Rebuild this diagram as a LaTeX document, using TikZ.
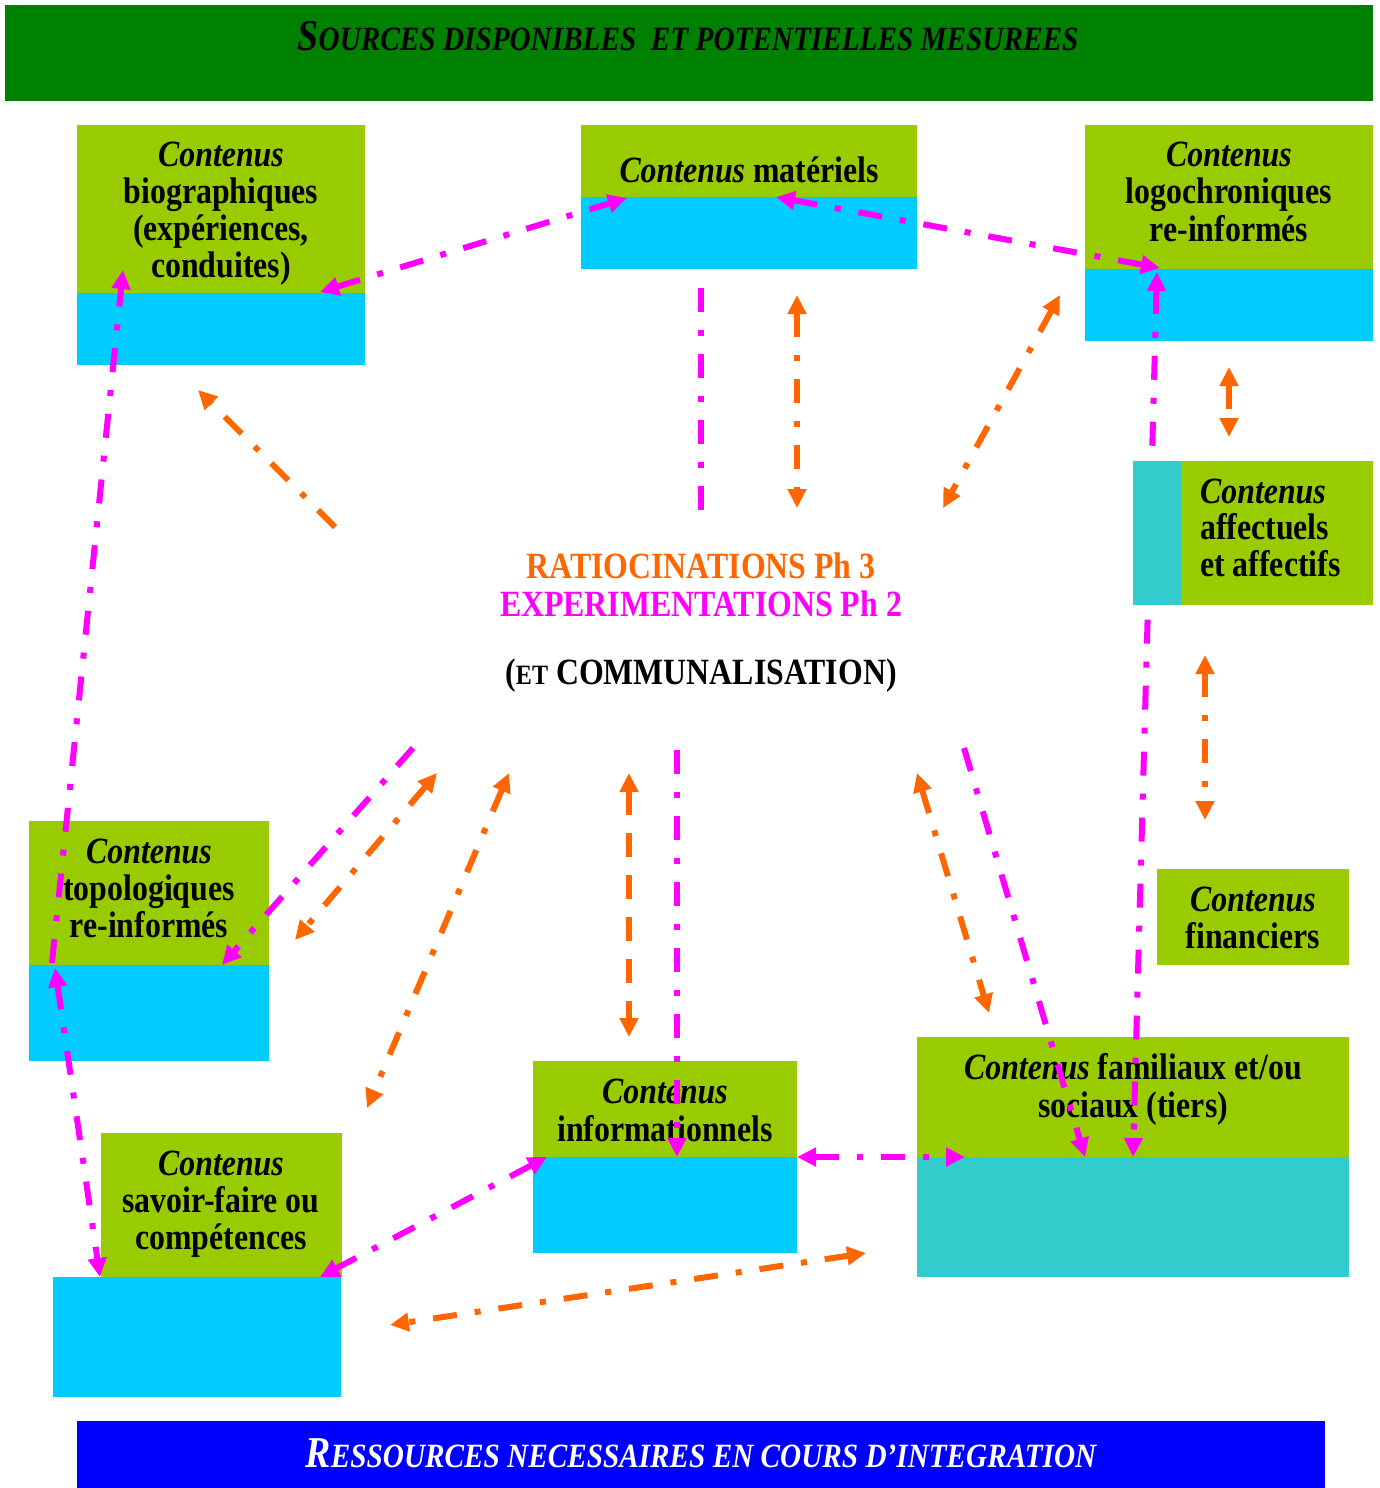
\documentclass[tikz,border=0pt]{standalone}
\usepackage{fontspec}
\setmainfont{Liberation Serif}[FakeStretch=0.86]
\usetikzlibrary{arrows.meta}
\definecolor{bandgreen}{RGB}{0,128,0}
\definecolor{lime}{RGB}{153,204,0}
\definecolor{sky}{RGB}{0,204,255}
\definecolor{sea}{RGB}{51,204,204}
\definecolor{bandblue}{RGB}{0,0,255}
\definecolor{orng}{RGB}{255,102,0}
\definecolor{mag}{RGB}{255,0,255}
\begin{document}
\begin{tikzpicture}[x=1pt,y=-1pt,
  panel/.style n args={3}{anchor=north west, inner sep=0pt, outer sep=0pt,
    minimum width=#1pt, minimum height=#2pt, fill=#3, draw=none},
  txt/.style={anchor=base, inner sep=0pt, font=\bfseries\fontsize{37}{37}\selectfont},
  txtl/.style={txt, anchor=base west},
  link/.style={line width=6pt, dash pattern=on 24pt off 18pt on 6pt off 18pt,
    >={Triangle[length=19pt,width=18pt]}},
  mlink/.style={link, draw=mag},
  olink/.style={link, draw=orng},
  olinkdash/.style={olink, dash pattern=on 24pt off 18pt}]

\useasboundingbox (0,0) rectangle (1380,1488);

% ---------- banners ----------
\node[panel={1368}{96}{bandgreen}] (topband) at (5,5) {};
\node[anchor=base, inner sep=0pt, font=\bfseries\itshape] (toptxt) at (688,51)
  {{\fontsize{44}{44}\selectfont S}{\fontsize{34}{34}\selectfont OURCES DISPONIBLES\ \ ET POTENTIELLES MESUREES}};
\node[panel={1248}{67}{bandblue}] (botband) at (77,1421) {};
\node[anchor=base, inner sep=0pt, font=\bfseries\itshape, text=white] (bottxt) at (701,1467)
  {{\fontsize{44}{44}\selectfont R}{\fontsize{34}{34}\selectfont ESSOURCES NECESSAIRES EN COURS D’INTEGRATION}};

% ---------- content boxes ----------
% biographiques
\node[panel={288}{168}{lime}] (bioG) at (77,125) {};
\node[panel={288}{72}{sky}] (bioB) at (77,293) {};
\node[txt] (bioT1) at (221,166) {\textit{Contenus}};
\node[txt] (bioT2) at (221,203) {biographiques};
\node[txt] (bioT3) at (221,240) {(expériences,};
\node[txt] (bioT4) at (221,277) {conduites)};
% materiels
\node[panel={336}{72}{lime}] (matG) at (581,125) {};
\node[panel={336}{72}{sky}] (matB) at (581,197) {};
\node[txt] (matT1) at (749,182) {\textit{Contenus} matériels};
% logochroniques
\node[panel={288}{144}{lime}] (logG) at (1085,125) {};
\node[panel={288}{72}{sky}] (logB) at (1085,269) {};
\node[txt] (logT1) at (1229,166) {\textit{Contenus}};
\node[txt] (logT2) at (1229,203) {logochroniques};
\node[txt] (logT3) at (1229,241) {re-informés};
% financiers
\node[panel={192}{96}{lime}] (finG) at (1157,869) {};
\node[txt] (finT1) at (1253,911) {\textit{Contenus}};
\node[txt] (finT2) at (1253,948) {financiers};
% topologiques
\node[panel={240}{144}{lime}] (topG) at (29,821) {};
\node[panel={240}{96}{sky}] (topB) at (29,965) {};
\node[txt] (topT1) at (149,863) {\textit{Contenus}};
\node[txt] (topT2) at (149,900) {topologiques};
\node[txt] (topT3) at (149,937) {re-informés};
% informationnels
\node[panel={264}{96}{lime}] (infG) at (533,1061) {};
\node[panel={264}{96}{sky}] (infB) at (533,1157) {};
\node[txt] (infT1) at (665,1103) {\textit{Contenus}};
\node[txt] (infT2) at (665,1141) {informationnels};
% familiaux
\node[panel={432}{120}{lime}] (famG) at (917,1037) {};
\node[panel={432}{120}{sea}] (famB) at (917,1157) {};
\node[txt] (famT1) at (1133,1079) {\textit{Contenus} familiaux et/ou};
\node[txt] (famT2) at (1133,1117) {sociaux (tiers)};
% savoir-faire
\node[panel={241}{144}{lime}] (savG) at (101,1133) {};
\node[panel={288}{120}{sky}] (savB) at (53,1277) {};
\node[txt] (savT1) at (221,1175) {\textit{Contenus}};
\node[txt] (savT2) at (221,1212) {savoir-faire ou};
\node[txt] (savT3) at (221,1249) {compétences};

% ---------- centre ----------
\node[txt, text=orng] (ratio) at (701,578) {RATIOCINATIONS Ph 3};
\node[txt, text=mag] (expe) at (701,616) {EXPERIMENTATIONS Ph 2};
\node[txt] (comm) at (701,684) {({\fontsize{28}{28}\selectfont ET} COMMUNALISATION)};

% ---------- connector end points ----------
\coordinate (m1a) at (320,292);  \coordinate (m1b) at (627,198);
\coordinate (m2a) at (776,197);  \coordinate (m2b) at (1160,268);
\coordinate (m3a) at (1157,272); \coordinate (m3b) at (1133,1157);
\coordinate (m4a) at (52,963);   \coordinate (m4b) at (123,270);
\coordinate (m5a) at (55,968);   \coordinate (m5b) at (100,1277);
\coordinate (m6a) at (413,748);  \coordinate (m6b) at (222,965);
\coordinate (m7a) at (677,750);  \coordinate (m7b) at (677,1157);
\coordinate (m8a) at (964,748);  \coordinate (m8b) at (1085,1157);
\coordinate (m9a) at (701,288);  \coordinate (m9b) at (701,510);
\coordinate (m10a) at (797,1157); \coordinate (m10b) at (965,1157);
\coordinate (m11a) at (547,1157); \coordinate (m11b) at (320,1277);

\coordinate (o1a) at (335,527);  \coordinate (o1b) at (198,390);
\coordinate (o2a) at (797,295);  \coordinate (o2b) at (797,508);
\coordinate (o3a) at (1060,295); \coordinate (o3b) at (943,508);
\coordinate (o4a) at (1229,367); \coordinate (o4b) at (1229,437);
\coordinate (o5a) at (1205,655); \coordinate (o5b) at (1205,820);
\coordinate (o6a) at (437,773);  \coordinate (o6b) at (295,940);
\coordinate (o7a) at (509,773);  \coordinate (o7b) at (367,1108);
\coordinate (o8a) at (629,773);  \coordinate (o8b) at (629,1037);
\coordinate (o9a) at (917,773);  \coordinate (o9b) at (989,1013);
\coordinate (o10a) at (866,1253); \coordinate (o10b) at (390,1325);

% ---------- magenta connectors (experimentations) ----------
\draw[mlink, <->] (m1a) -- (m1b);
\draw[mlink, <->] (m2a) -- (m2b);
\draw[mlink, <->] (m3a) -- (m3b);
\draw[mlink, ->] (m4a) -- (m4b);
\draw[mlink, <->] (m5a) -- (m5b);
\draw[mlink, ->] (m6a) -- (m6b);
\draw[mlink, ->] (m7a) -- (m7b);
\draw[mlink, ->] (m8a) -- (m8b);
\draw[mlink] (m9a) -- (m9b);
\draw[mlink, <->] (m10a) -- (m10b);
\draw[mlink, <->] (m11a) -- (m11b);

% ---------- orange connectors (ratiocinations) ----------
\draw[olink, ->] (o1a) -- (o1b);
\draw[olink, <->] (o2a) -- (o2b);
\draw[olink, <->] (o3a) -- (o3b);
\draw[olink, <->] (o4a) -- (o4b);
\draw[olink, <->] (o5a) -- (o5b);
\draw[olink, <->] (o6a) -- (o6b);
\draw[olink, <->] (o7a) -- (o7b);
\draw[olinkdash, <->] (o8a) -- (o8b);
\draw[olink, <->] (o9a) -- (o9b);
\draw[olink, <->] (o10a) -- (o10b);

% ---------- affectuels box, lying over the long magenta link ----------
\node[panel={48}{144}{sea}] (affS) at (1133,461) {};
\node[panel={192}{144}{lime}] (affG) at (1181,461) {};
\node[txtl] (affT1) at (1200,503) {\textit{Contenus}};
\node[txtl] (affT2) at (1200,539) {affectuels};
\node[txtl] (affT3) at (1200,576) {et affectifs};

\end{tikzpicture}
\end{document}
